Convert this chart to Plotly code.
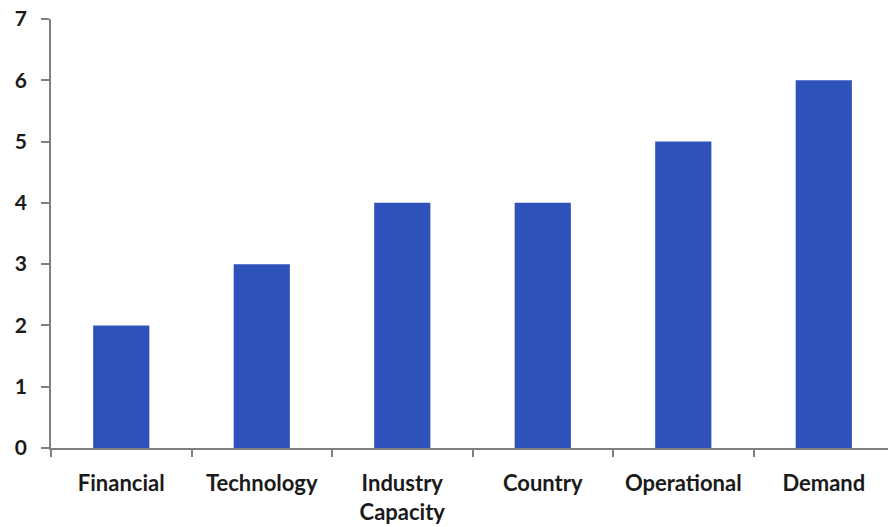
import plotly.graph_objects as go

categories = ["Financial", "Technology", "Industry<br>Capacity", "Country", "Operational", "Demand"]
values = [2, 3, 4, 4, 5, 6]
y_ticks = [0, 1, 2, 3, 4, 5, 6, 7]

bar_color = "#2F52BA"
axis_color = "#808080"
font_family = "Lato, 'Open Sans', sans-serif"

fig = go.Figure(
    go.Bar(
        x=categories,
        y=values,
        width=0.4,
        marker=dict(color=bar_color, line=dict(width=0)),
    )
)

fig.update_layout(
    width=888,
    height=527,
    margin=dict(l=51, r=0, t=19, b=79),
    paper_bgcolor="white",
    plot_bgcolor="white",
    showlegend=False,
    font=dict(family=font_family, size=22, color="#1a1a1a"),
)

fig.update_xaxes(
    type="category",
    tickmode="array",
    tickvals=categories,
    ticktext=[f"<b>{c}</b>" for c in categories],
    range=[-0.5, 5.457],
    tickson="boundaries",
    showline=True,
    linecolor=axis_color,
    linewidth=1.5,
    ticks="outside",
    ticklen=7,
    tickwidth=1.5,
    tickcolor=axis_color,
    showgrid=False,
    zeroline=False,
    ticklabelstandoff=15,
)

fig.update_yaxes(
    range=[0, 7],
    tickmode="array",
    tickvals=y_ticks,
    ticktext=[f"<b>{t}</b>" for t in y_ticks],
    showline=True,
    linecolor=axis_color,
    linewidth=1.5,
    ticks="outside",
    ticklen=8,
    tickwidth=1.5,
    tickcolor=axis_color,
    showgrid=False,
    zeroline=False,
    tickfont=dict(size=21),
    ticklabelstandoff=10,
)

fig.write_html("out.html")
